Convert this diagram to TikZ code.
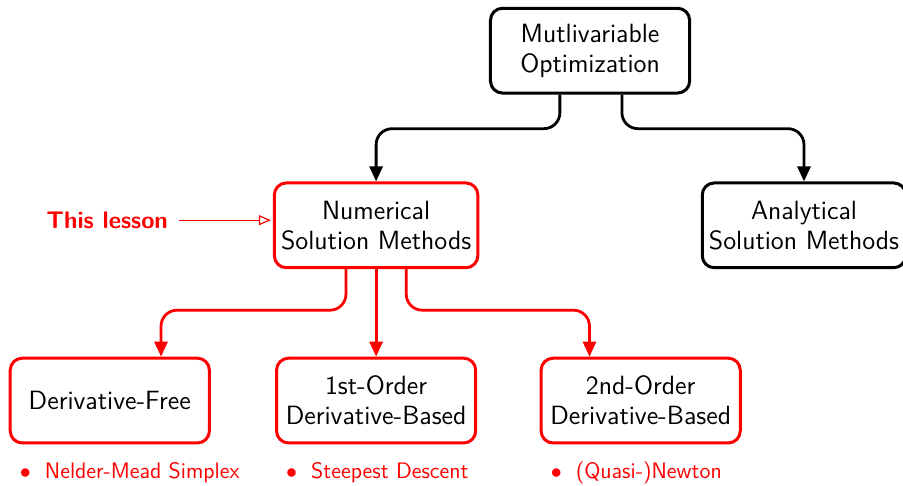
\documentclass[tikz,border=0pt]{standalone}
\usepackage{amsmath}
\usepackage{amssymb}
\usepackage{tikz}
\usetikzlibrary{shapes,arrows.meta,positioning}
\renewcommand{\familydefault}{\sfdefault}

\tikzset{
  box/.style={draw,rounded corners=6pt,line width=1.5pt,minimum width=3.5cm,
    minimum height=1.49cm,align=center,font=\fontsize{13.2pt}{15pt}\selectfont,fill=white},
  redbox/.style={box,draw=red},
  link/.style={line width=1.4pt,rounded corners=8pt,-{Triangle[length=7.5pt,width=6.5pt]}},
  redlink/.style={link,draw=red},
  method/.style={anchor=west,inner sep=0pt,text=red,font=\fontsize{11.2pt}{13pt}\selectfont},
  lesson/.style={text=red,font=\large\bfseries}
}

\begin{document}
\begin{tikzpicture}
                \useasboundingbox (0,0) rectangle (15.87,-8.54);

                \node[box] (multi) at (10.37,-0.89) {Mutlivariable\\Optimization};

                \node[redbox] (numeric) at (6.61,-3.96) {Numerical\\Solution Methods};
                \node[box] (analytic) at (14.13,-3.96) {Analytical\\Solution Methods};

                \node[redbox] (dfree) at (1.93,-7.04) {Derivative-Free};
                \node[redbox] (first) at (6.61,-7.04) {1st-Order\\Derivative-Based};
                \node[redbox] (second) at (11.26,-7.04) {2nd-Order\\Derivative-Based};

                \node[lesson,left=1.72cm of numeric,yshift=0.09cm] (lesson) {This lesson};

                \node[method] (nelder) at ([xshift=0.19cm,yshift=-0.5cm]dfree.south west) {$\bullet$\hspace{7pt}Nelder-Mead Simplex};
                \node[method] (steep) at ([xshift=0.19cm,yshift=-0.5cm]first.south west) {$\bullet$\hspace{7pt}Steepest Descent};
                \node[method] (newton) at ([xshift=0.19cm,yshift=-0.5cm]second.south west) {$\bullet$\hspace{7pt}(Quasi-)Newton};

                \path[draw,link] ([xshift=-0.53cm]multi.south) -- ++(0,-0.6) -| (numeric.north);
                \path[draw,link] ([xshift=0.56cm]multi.south) -- ++(0,-0.6) -| (analytic.north);

                \path[draw,redlink] ([xshift=-0.53cm]numeric.south) -- ++(0,-0.72) -| ([xshift=0.9cm]dfree.north);
                \path[draw,redlink] (numeric.south) -- (first.north);
                \path[draw,redlink] ([xshift=0.53cm]numeric.south) -- ++(0,-0.72) -| ([xshift=-0.9cm]second.north);

                \path[draw,red,line width=0.6pt,-{Triangle[open,length=6pt,width=5pt]},shorten <=2pt,shorten >=1pt] (lesson) -- (lesson -| numeric.west);

            \end{tikzpicture}
\end{document}
